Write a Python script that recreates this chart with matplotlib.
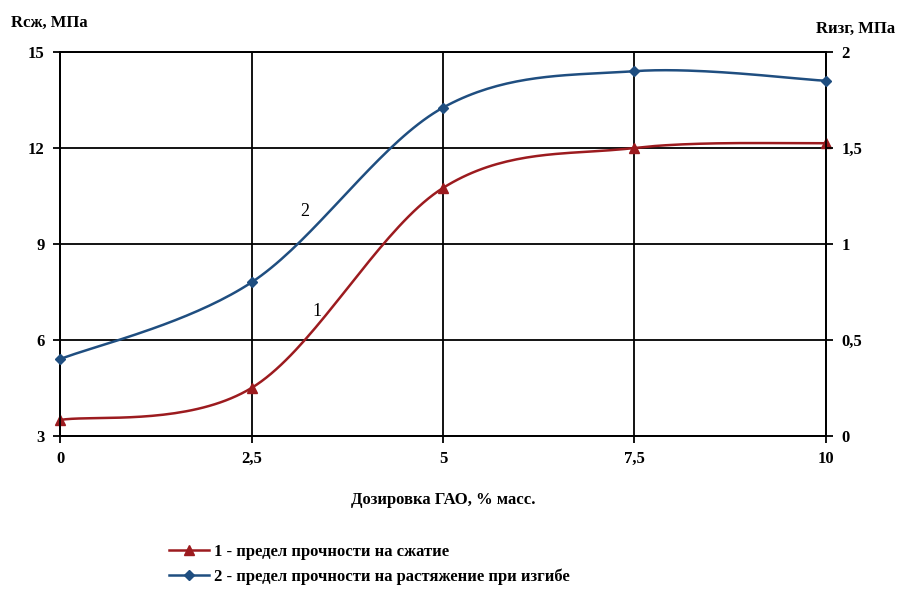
import numpy as np
import matplotlib.pyplot as plt
from matplotlib.ticker import FuncFormatter
from matplotlib.lines import Line2D

plt.rcParams['font.family'] = ['Liberation Serif', 'DejaVu Serif']
plt.rcParams['font.weight'] = 'bold'

dose = [0, 2.5, 5, 7.5, 10]
r_comp = [3.5, 4.5, 10.75, 12.0, 12.15]     # левая ось, МПа
r_bend = [0.40, 0.80, 1.71, 1.90, 1.85]     # правая ось, МПа

x_ticks = [0, 2.5, 5, 7.5, 10]
left_ticks = [3, 6, 9, 12, 15]
right_ticks = [0, 0.5, 1, 1.5, 2]

red = '#9c1b1f'
blue = '#1f4e80'


def smooth(xs, ys, xr, yr, n=40):
    # сглаживание как в Excel: Catmull-Rom в нормированных координатах
    px = (np.array(xs) - xr[0]) / (xr[1] - xr[0])
    py = (np.array(ys) - yr[0]) / (yr[1] - yr[0])
    P = np.column_stack([px, py])
    P = np.vstack([P[0], P, P[-1]])
    out = []
    for i in range(1, len(P) - 2):
        p0, p1, p2, p3 = P[i - 1], P[i], P[i + 1], P[i + 2]
        t = np.linspace(0, 1, n)[:, None]
        c = 0.5 * ((2 * p1) + (-p0 + p2) * t + (2 * p0 - 5 * p1 + 4 * p2 - p3) * t ** 2
                   + (-p0 + 3 * p1 - 3 * p2 + p3) * t ** 3)
        out.append(c)
    c = np.vstack(out)
    return c[:, 0] * (xr[1] - xr[0]) + xr[0], c[:, 1] * (yr[1] - yr[0]) + yr[0]


fig = plt.figure(figsize=(9, 5.96), dpi=100)
ax = fig.add_axes([0.0667, 0.2685, 0.851, 0.6443])
ax2 = ax.twinx()

sx, sy = smooth(dose, r_comp, (0, 10), (3, 15))
ax.plot(sx, sy, color=red, lw=1.8, zorder=4)
ax.plot(dose, r_comp, ls='none', marker='^', ms=7, color=red, zorder=5, clip_on=False)

bx, by = smooth(dose, r_bend, (0, 10), (0, 2))
ax2.plot(bx, by, color=blue, lw=1.8, zorder=4)
ax2.plot(dose, r_bend, ls='none', marker='D', ms=5.5, color=blue, zorder=5, clip_on=False)

ax.set_xlim(0, 10)
ax.set_ylim(3, 15)
ax2.set_ylim(0, 2)
ax.set_xticks(x_ticks)
ax.set_yticks(left_ticks)
ax2.set_yticks(right_ticks)

fmt = FuncFormatter(lambda v, p: f'{v:g}'.replace('.', ','))
ax.xaxis.set_major_formatter(fmt)
ax2.yaxis.set_major_formatter(fmt)

ax.grid(True, color='black', lw=1.3)
for a in (ax, ax2):
    for s in a.spines.values():
        s.set_color('black')
        s.set_linewidth(1.3)
    a.tick_params(direction='out', length=5, width=1.3, labelsize=12, colors='black', pad=6)

ax.annotate('2', xy=(3.2, 10.0), fontsize=13, fontweight='normal', ha='center', va='center')
ax.annotate('1', xy=(3.35, 6.9), fontsize=13, fontweight='normal', ha='center', va='center')

fig.text(0.012, 0.962, 'Rсж, МПа', fontsize=12, ha='left', va='center')
fig.text(0.995, 0.952, 'Rизг, МПа', fontsize=12, ha='right', va='center')
ax.set_xlabel('Дозировка ГАО, % масс.', fontsize=12, fontweight='bold', labelpad=18)

handles = [Line2D([], [], color=red, lw=1.8, marker='^', ms=7),
           Line2D([], [], color=blue, lw=1.8, marker='D', ms=5.5)]
labels = ['1 - предел прочности на сжатие',
          '2 - предел прочности на растяжение при изгибе']
fig.legend(handles, labels, loc='upper left', bbox_to_anchor=(0.18, 0.098),
           frameon=False, fontsize=12, handlelength=2.4, handletextpad=0.3,
           labelspacing=0.5, borderaxespad=0)

fig.savefig('out.png', dpi=100)
